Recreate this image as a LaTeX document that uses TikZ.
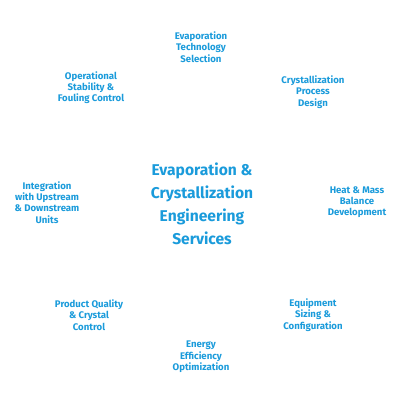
\documentclass[tikz,border=0pt]{standalone}
\usepackage{fontspec}
\setmainfont{Fira Sans}
\definecolor{txtblue}{HTML}{1A9BDB}
\begin{document}
\begin{tikzpicture}[x=1pt,y=-1pt,
  lbl/.style={text=txtblue,align=center,font=\fontsize{9.6}{11.3}\selectfont\fontseries{sb}\selectfont,inner sep=0pt},
  ttl/.style={text=txtblue,align=center,font=\fontsize{15.6}{22.8}\selectfont\fontseries{sb}\selectfont,inner sep=0pt}]
\useasboundingbox[fill=white] (0,0) rectangle (403,403);
\node[ttl] (center) at (202,204) {Evaporation \&\\Crystallization\\Engineering\\Services};
\node[lbl] (n1) at (201,47) {Evaporation\\Technology\\Selection};
\node[lbl] (n2) at (313,92) {Crystallization\\Process\\Design};
\node[lbl] (n3) at (357,202) {Heat \& Mass\\Balance\\Development};
\node[lbl] (n4) at (313,315) {Equipment\\Sizing \&\\Configuration};
\node[lbl] (n5) at (201,357) {Energy\\Efficiency\\Optimization};
\node[lbl] (n6) at (89,315) {Product Quality\\\& Crystal\\Control};
\node[lbl] (n7) at (47,202.5) {Integration\\with Upstream\\\& Downstream\\Units};
\node[lbl] (n8) at (91,87.5) {Operational\\Stability \&\\Fouling Control};
\end{tikzpicture}
\end{document}
